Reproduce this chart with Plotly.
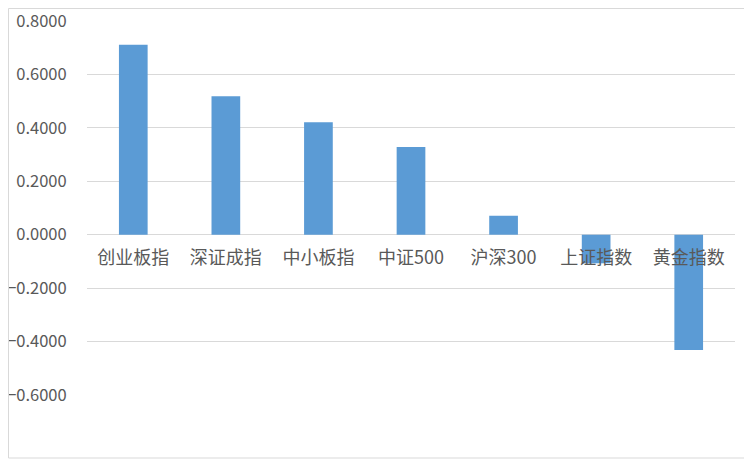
import plotly.graph_objects as go

categories = ["创业板指", "深证成指", "中小板指", "中证500", "沪深300", "上证指数", "黄金指数"]
values = [0.711, 0.518, 0.421, 0.328, 0.071, -0.107, -0.432]

# page body has an 8px margin, so the figure is shifted by 8px
W, H = 744, 452
L, R, T, B = 79, 17, 13, 65
pw, ph = W - L - R, H - T - B
ymin, ymax = -0.6, 0.8

fig = go.Figure(go.Bar(x=categories, y=values, marker_color="#5B9BD5", width=0.31))

fam = "Noto Sans CJK SC, Noto Sans, sans-serif"
xfont = dict(family=fam, size=18, color="#595959")
yfont = dict(family=fam, size=16.5, color="#595959")

fig.update_layout(
    template="none",
    width=W, height=H,
    margin=dict(l=L, r=R, t=T, b=B, pad=0),
    paper_bgcolor="white", plot_bgcolor="white",
    showlegend=False,
    font=yfont,
    xaxis=dict(
        anchor="free", position=(0 - ymin) / (ymax - ymin),
        showgrid=False, showline=False, zeroline=False,
        ticks="outside", ticklen=7, tickcolor="rgba(0,0,0,0)",
        tickfont=xfont, automargin=False, ticklabeloverflow="allow",
    ),
    yaxis=dict(
        range=[ymin, ymax], dtick=0.2, tick0=0, tickformat=".4f",
        showgrid=True, gridcolor="#D9D9D9", gridwidth=1,
        zeroline=True, zerolinecolor="#D9D9D9", zerolinewidth=1,
        showline=False,
        ticks="outside", ticklen=16, tickcolor="rgba(0,0,0,0)",
        tickfont=yfont, automargin=False, ticklabeloverflow="allow",
    ),
    shapes=[dict(
        type="rect", xref="paper", yref="paper",
        x0=(0.5 - L) / pw, x1=(W - 2 - L) / pw,
        y0=(H - B - (H - 2)) / ph, y1=(H - B - 0.5) / ph,
        line=dict(color="#D9D9D9", width=1),
    )],
)

fig.write_html("out.html")
